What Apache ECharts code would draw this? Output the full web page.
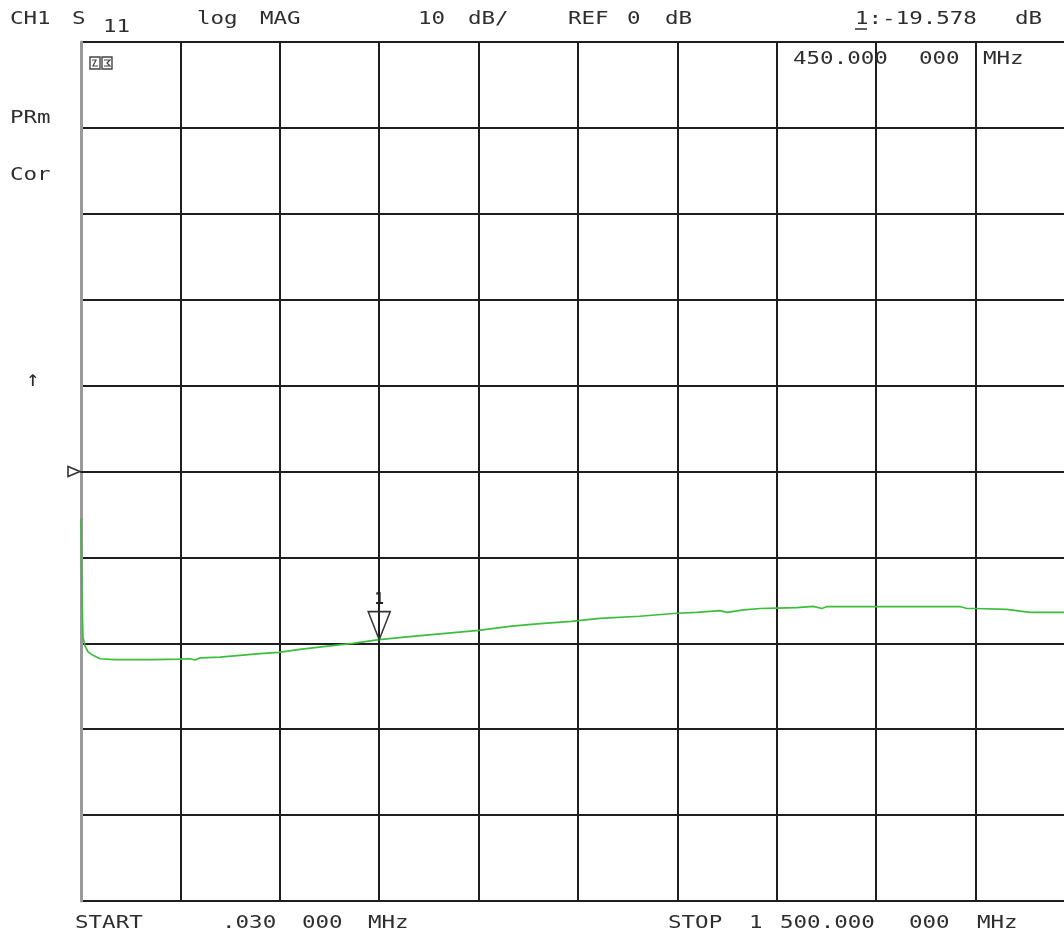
<!DOCTYPE html>
<html><head><meta charset="utf-8">
<script src="https://cdn.jsdelivr.net/npm/echarts@6/dist/echarts.min.js"></script>
<style>html,body{margin:0;padding:0;background:#fff;}#c{width:1064px;height:939px;}</style>
</head><body><div id="c"></div>
<script>
// ---- data ----
const freqMHz = [0.03, 1.5, 3.0, 6.0, 10.6, 18, 28.7, 50, 74, 110, 149, 165, 172, 180, 210, 240, 270, 299, 330, 376, 410, 450, 500, 550, 600, 650, 693, 740, 783, 843, 899, 929, 964, 975, 1000, 1025, 1049, 1080, 1105, 1118, 1126, 1160, 1200, 1260, 1326, 1337, 1349, 1397, 1432, 1482, 1500];
const s11dB   = [-5.5, -15.0, -19.3, -20.3, -21.0, -21.4, -21.8, -21.9, -21.9, -21.9, -21.85, -21.8, -21.95, -21.7, -21.6, -21.4, -21.2, -21.05, -20.7, -20.3, -20.0, -19.578, -19.2, -18.85, -18.5, -18.0, -17.7, -17.45, -17.1, -16.85, -16.5, -16.4, -16.2, -16.4, -16.1, -15.95, -15.9, -15.85, -15.7, -15.95, -15.72, -15.72, -15.72, -15.72, -15.72, -15.95, -15.95, -16.05, -16.4, -16.4, -16.4];
const markerFreq = 450;
const markerValue = -19.578;
const refLevel = 0;
const xRange = [0, 1483.4, 150];   // start, frequency at right edge of the picture (stop 1500 lies just beyond), MHz per division
const yRange = [-50, 50, 10];      // dB, 10 dB per division

// header / footer words: [text, left x, center y]
const topWords = [["CH1",10,19],["S",72,19],["log",197,19],["MAG",260,19],["10",418,19],["dB/",468,19],["REF",568,19],["0",627,19],["dB",665,19],["1:-19.578",855,19],["dB",1015,19]];
const subWords = [["11",103,27]];
const markerWords = [["450.000",793,59],["000",919,59],["MHz",983,59]];
const sideWords = [["PRm",10,118],["Cor",10,175]];
const arrowWords = [["↑",26,380]];
const bottomWords = [["START",75,923],[".030",222,923],["000",302,923],["MHz",368,923],["STOP",668,923],["1",749,923],["500.000",780,923],["000",909,923],["MHz",977,923]];

const FONT = '"DejaVu Sans Mono", "Liberation Mono", monospace';
const TXT = '#2e2e2e';

function word(w, size, sx) {
  return {
    type: 'text', x: w[1], y: w[2], scaleX: sx || 1.25, silent: true, z: 10,
    style: { text: w[0], font: (size || 18) + 'px ' + FONT, fill: TXT,
             align: 'left', verticalAlign: 'middle', textAlign: 'left', textVerticalAlign: 'middle' }
  };
}

const chart = echarts.init(document.getElementById('c'), null, {renderer: 'canvas'});

const LINE = { color: '#1e1e1e', width: 2 };

const option = {
  backgroundColor: '#ffffff',
  animation: false,
  grid: { left: 81, top: 42, right: 0, height: 859, containLabel: false },
  xAxis: {
    type: 'value', min: xRange[0], max: xRange[1], interval: xRange[2],
    axisLabel: { show: false }, axisTick: { show: false },
    axisLine: { show: true, lineStyle: LINE },
    splitLine: { show: true, showMinLine: false, showMaxLine: false, lineStyle: LINE }
  },
  yAxis: {
    type: 'value', min: yRange[0], max: yRange[1], interval: yRange[2],
    axisLabel: { show: false }, axisTick: { show: false },
    axisLine: { show: true, onZero: false, lineStyle: { color: '#9a9a9a', width: 3 } },
    splitLine: { show: true, lineStyle: LINE }
  },
  series: [{
    type: 'line', name: 'S11',
    data: freqMHz.map((f, i) => [f, s11dB[i]]),
    showSymbol: false, smooth: false, clip: true,
    lineStyle: { color: '#3dbd3d', width: 1.7 },
    markPoint: {
      silent: true,
      data: [{
        coord: [markerFreq, markerValue],
        symbol: 'path://M0,0L22,0L11,28Z',
        symbolSize: [22, 28],
        symbolOffset: [0, '-50%'],
        itemStyle: { color: 'rgba(255,255,255,0)', borderColor: '#333', borderWidth: 1.6 },
        label: { show: true, formatter: '1', position: 'top', distance: 3, color: '#222',
                 fontFamily: FONT, fontSize: 15, fontWeight: 'bold' }
      }]
    }
  }],
  graphic: []
};
chart.setOption(option);

const p = chart.convertToPixel({ gridIndex: 0 }, [xRange[0], refLevel]);
const g = [];
topWords.concat(markerWords, sideWords, bottomWords).forEach(w => g.push(word(w, 18)));
subWords.forEach(w => g.push(word(w, 18)));
arrowWords.forEach(w => g.push(word(w, 22, 1)));
// underline under marker number in the header
g.push({ type: 'line', silent: true, shape: { x1: 855, y1: 29, x2: 867, y2: 29 }, style: { stroke: TXT, lineWidth: 1.5 } });
// reference-level indicator (right-pointing outline triangle)
g.push({ type: 'polygon', silent: true, z: 10,
  shape: { points: [[p[0]-13, p[1]-5], [p[0]-13, p[1]+5], [p[0]-1, p[1]]] },
  style: { fill: 'none', stroke: '#333', lineWidth: 1.6 } });
// small annotation glyph in the upper-left corner of the graticule
g.push({ type: 'rect', silent: true, shape: { x: 90, y: 57, width: 10, height: 12 }, style: { fill: 'none', stroke: '#444', lineWidth: 1.4 } });
g.push({ type: 'rect', silent: true, shape: { x: 102, y: 57, width: 10, height: 12 }, style: { fill: 'none', stroke: '#444', lineWidth: 1.4 } });
g.push({ type: 'polyline', silent: true, shape: { points: [[92,60],[96,60],[93,66],[98,66]] }, style: { fill: 'none', stroke: '#444', lineWidth: 1.2 } });
g.push({ type: 'polyline', silent: true, shape: { points: [[104,60],[110,60],[107,63],[110,66],[104,66]] }, style: { fill: 'none', stroke: '#444', lineWidth: 1.2 } });
chart.setOption({ graphic: g });
</script>
</body></html>
